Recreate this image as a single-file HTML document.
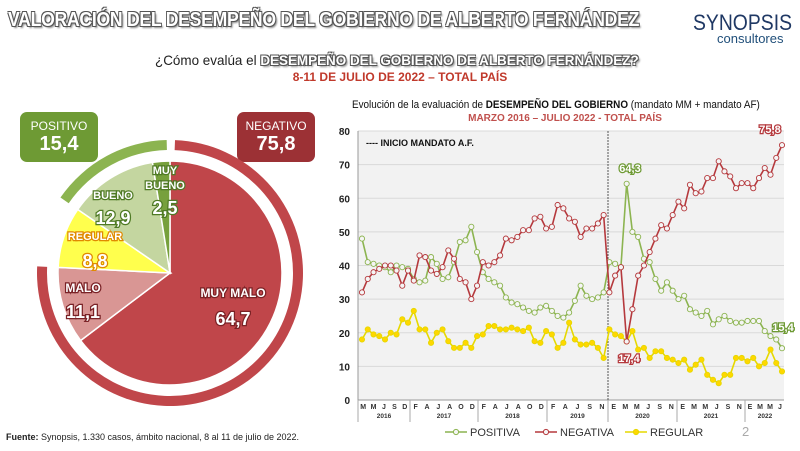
<!DOCTYPE html>
<html><head><meta charset="utf-8">
<style>
body{margin:0;width:800px;height:451px;background:#fff;font-family:"Liberation Sans",sans-serif;overflow:hidden;position:relative}
.out{color:#fff;font-weight:bold;text-shadow:-1px -1px 0 #555,1px -1px 0 #555,-1px 1px 0 #555,1px 1px 0 #555,2px 2px 2px #888}
.abs{position:absolute}
</style></head><body>
<div class="abs out" style="left:8px;top:9px;font-size:20px;letter-spacing:-0.3px;white-space:nowrap;transform:scaleX(0.88);transform-origin:left top">VALORACIÓN DEL DESEMPEÑO DEL GOBIERNO DE ALBERTO FERNÁNDEZ</div>
<div class="abs" style="left:693px;top:10px;font-size:22px;color:#1f3864;transform:scaleX(0.88);transform-origin:left top">SYNOPSIS</div>
<div class="abs" style="left:717px;top:31px;font-size:13px;color:#1f4e79">consultores</div>
<div class="abs" style="left:155px;top:52px;font-size:14px;color:#222;white-space:nowrap;transform:scaleX(0.96);transform-origin:left top">¿Cómo evalúa el <span class="out" style="font-size:14px">DESEMPEÑO DEL GOBIERNO DE ALBERTO FERNÁNDEZ?</span></div>
<div class="abs" style="left:0;width:800px;text-align:center;top:70px;font-size:12px;font-weight:bold;color:#c0392b">8-11 DE JULIO DE 2022 – TOTAL PAÍS</div>
<div class="abs" style="left:20px;top:112px;width:78px;height:50px;background:#6e9a34;border-radius:7px;color:#fff;text-align:center">
<div style="font-size:12px;margin-top:7px">POSITIVO</div><div style="font-size:20px;font-weight:bold">15,4</div></div>
<div class="abs" style="left:237px;top:112px;width:78px;height:50px;background:#9c3135;border-radius:7px;color:#fff;text-align:center">
<div style="font-size:12px;margin-top:7px">NEGATIVO</div><div style="font-size:20px;font-weight:bold">75,8</div></div>
<svg class="abs" style="left:0;top:0" width="340" height="451" id="pie"></svg>
<div class="abs" style="left:6px;top:432px;font-size:9px;color:#222"><b>Fuente:</b> Synopsis, 1.330 casos, ámbito nacional, 8 al 11 de julio de 2022.</div>
<div class="abs" style="left:352px;top:99px;font-size:11px;color:#111;white-space:nowrap;transform:scaleX(0.9);transform-origin:left top">Evolución de la evaluación de <b>DESEMPEÑO DEL GOBIERNO</b> (mandato MM + mandato AF)</div>
<div class="abs" style="left:340px;width:450px;text-align:center;top:113px;font-size:10px;font-weight:bold;color:#c0504d">MARZO 2016 – JULIO 2022 - TOTAL PAÍS</div>
<svg class="abs" style="left:0;top:0" width="800" height="451" id="line"></svg>
<script>
// ---- pie data
const pieLabels=["MUY MALO","MALO","REGULAR","BUENO","MUY BUENO"];
const pieValues=[64.7,11.1,8.8,12.9,2.5];
const ringValues=[75.8,15.4];
// ---- line data
const posValues=[48,41,40.5,40,39.5,38,40,39.5,39,36,35,35.5,42.5,40.5,36,36.5,41,47,47.5,51.5,44,38,36,35,34,30.5,29,28.5,27.5,26.5,26,27.5,28,26.5,25,24.5,26,29.5,34,31,30,30.5,32,
41,40.5,39.5,64.3,50,48.5,42,41,36,32.5,35,32.5,30,31,27,26,25,26.5,22.5,24,25,23.5,23,23,23.5,23.5,23.5,20.5,19,18,15.4];
const negValues=[32,36,38,39,40,40,38.5,34,38.5,35.5,43,42.5,38.5,37.5,39.5,44.5,42,36,35,30,34,41,40,41,43,48,47.5,48.5,50.5,50.5,54,54.5,51,51.5,58,57,54,53,48.5,51,51,52.5,55,
32,37,39.5,17.4,27,37,40,44,48,52,51,55,59,57,64,61.5,62,66,66,71,68,66.5,63,64.5,64.5,63,66,69,67,72,75.8];
const regValues=[18,21,19.5,19,18,20,19.5,24,23,26.5,21,21,17,20,21,17.5,15.5,15.5,17,15.5,19,19.5,22,22,21,21,21.5,21,20.5,21.5,17.5,17,20.5,19.5,15.5,17,23,18,16.5,16.5,17,15.5,12.5,
21,19.5,19,17.4,20.5,15,15.5,12.5,14.5,14.5,12.5,12,11,12,9,10.5,12,7.5,6,5,7.5,7.5,12.5,12.5,11.5,12.5,10,11,15,11,8.5];
const yTicks=[0,10,20,30,40,50,60,70,80];
const years=["2016","2017","2018","2019","2020","2021","2022"];
const monthGroups=[["M","M","J","S","D"],["F","A","J","A","O","D"],["F","A","J","A","O","D"],["F","A","J","S","N"],["E","M","M","J","S","N"],["E","M","M","J","S","N"],["E","M","M","J"]];
const NS="http://www.w3.org/2000/svg";
function mk(svg,tag,at){const e=document.createElementNS(NS,tag);for(const k in at)e.setAttribute(k,at[k]);svg.appendChild(e);return e;}
// PIE
const pie=document.getElementById('pie');
const cx=170,cy=273,R=112;
const pieColors=["#c0464a","#d99694","#ffff4d","#c4d6a0","#77a03c"];
function pt(r,a){const t=a*2*Math.PI/100;return [cx+r*Math.sin(t),cy-r*Math.cos(t)];}
function arcPath(r,a0,a1){const p0=pt(r,a0),p1=pt(r,a1);const lg=(a1-a0)>50?1:0;return `M${cx},${cy}L${p0[0]},${p0[1]}A${r},${r} 0 ${lg} 1 ${p1[0]},${p1[1]}Z`;}
function ringPath(r1,r2,a0,a1){const p0=pt(r2,a0),p1=pt(r2,a1),q1=pt(r1,a1),q0=pt(r1,a0);const lg=(a1-a0)>50?1:0;return `M${p0[0]},${p0[1]}A${r2},${r2} 0 ${lg} 1 ${p1[0]},${p1[1]}L${q1[0]},${q1[1]}A${r1},${r1} 0 ${lg} 0 ${q0[0]},${q0[1]}Z`;}
let acc=0;
pieValues.forEach((v,i)=>{const p=mk(pie,'path',{d:arcPath(R,acc,acc+v),fill:pieColors[i],stroke:'#fff','stroke-width':1.5});

acc+=v;});
let r0=mk(pie,'path',{d:ringPath(123,133,0.6,ringValues[0]),fill:'#c0464a'});


let r1=mk(pie,'path',{d:ringPath(123,133,100-ringValues[1],99.6),fill:'#8cb450'});


const pieText=[[233,297,"MUY MALO",12,"#fff"],[233,325,"64,7",18,"#fff"],[83,292,"MALO",12,"#fff"],[83,318,"11,1",18,"#fff"],[95,240,"REGULAR",11,"#fff"],[95,267,"8,8",18,"#fff"],[113,199,"BUENO",11,"#fff"],[113,224,"12,9",18,"#fff"],[165,174,"MUY",11,"#fff"],[165,189,"BUENO",11,"#fff"],[165,214,"2,5",18,"#fff"]];
const strokeCols=["#7a2226","#7a2226","#7a2226","#7a2226","#e08a00","#e08a00","#4f7a25","#4f7a25","#4f7a25","#4f7a25","#4f7a25"];
pieText.forEach((t,i)=>{const e=mk(pie,'text',{x:t[0],y:t[1],'text-anchor':'middle','font-size':t[3],'font-weight':'bold',fill:t[4],stroke:strokeCols[i],'stroke-width':2.5,'paint-order':'stroke','font-family':'Liberation Sans, sans-serif'});e.textContent=t[2];

});
// LINE
const sv=document.getElementById('line');
const X0=358,X1=784,Y0=400,Y1=131;
const N=posValues.length;
const xs=i=>362+i*(420/(N-1));
const ys=v=>Y0-(v/80)*(Y0-Y1);
let bg=mk(sv,'rect',{x:X0,y:Y1,width:X1-X0,height:Y0-Y1,fill:'#f2f2f2'});


yTicks.forEach(t=>{if(t>0){let g=mk(sv,'line',{x1:X0,x2:X1,y1:ys(t),y2:ys(t),stroke:'#d9d9d9','stroke-width':1});}
const e=mk(sv,'text',{x:350,y:ys(t)+4,'text-anchor':'end','font-size':10,'font-weight':'bold',fill:'#222'});e.textContent=t;

});
mk(sv,'line',{x1:X0,x2:X0,y1:Y1,y2:Y0,stroke:'#999'});
mk(sv,'line',{x1:X0,x2:X1,y1:Y0,y2:Y0,stroke:'#999'});
let vl=mk(sv,'line',{x1:608,x2:608,y1:Y1,y2:Y0+22,stroke:'#555','stroke-dasharray':'2,1'});


let lt=mk(sv,'text',{x:366,y:146,'font-size':9,'font-weight':'bold',fill:'#111'});lt.textContent='---- INICIO MANDATO A.F.';


const bounds=[358,410,478,547,608,677,745,785];
years.forEach((y,i)=>{const a=bounds[i],b=bounds[i+1];
mk(sv,'line',{x1:a,x2:a,y1:Y0,y2:Y0+22,stroke:'#aaa'});
const ml=monthGroups[i];const w=(b-a)/ml.length;
ml.forEach((m,j)=>{const e=mk(sv,'text',{x:a+w*(j+0.5),y:Y0+9,'text-anchor':'middle','font-size':7,'font-weight':'bold',fill:'#333'});e.textContent=m;

});
const e=mk(sv,'text',{x:(a+b)/2,y:Y0+18,'text-anchor':'middle','font-size':6.5,'font-weight':'bold',fill:'#333'});e.textContent=y;

});
function series(vals,stroke,fill,name){
const d=vals.map((v,i)=>(i?'L':'M')+xs(i)+','+ys(v)).join('');
const p=mk(sv,'path',{d:d,fill:'none',stroke:stroke,'stroke-width':1.6});


vals.forEach((v,i)=>{const c=mk(sv,'circle',{cx:xs(i),cy:ys(v),r:2.6,fill:fill,stroke:stroke,'stroke-width':0.9});

});}
series(regValues,'#e6d800','#ffd700','regular');
series(posValues,'#8cb450','#f5f5f5','positiva');
series(negValues,'#b5393d','#f5f5f5','negativa');
function callout(x,y,t,c,name){const e=mk(sv,'text',{x:x,y:y,'text-anchor':'middle','font-size':11,'font-weight':'bold',fill:'#fff',stroke:c,'stroke-width':2.5,'paint-order':'stroke'});e.textContent=t;

}
callout(770,133,'75,8','#b5393d','callout-negative-last');
callout(630,172,'64,3','#6e9a34','callout-positive-peak');
callout(629,362,'17,4','#b5393d','callout-negative-min');
callout(783,331,'15,4','#6e9a34','callout-positive-last');
const leg=[["POSITIVA","#8cb450","#f5f5f5",445],["NEGATIVA","#b5393d","#f5f5f5",535],["REGULAR","#e6d800","#ffd700",625]];
leg.forEach(l=>{mk(sv,'line',{x1:l[3],x2:l[3]+22,y1:432,y2:432,stroke:l[1],'stroke-width':1.6});mk(sv,'circle',{cx:l[3]+11,cy:432,r:2.6,fill:l[2],stroke:l[1]});
const e=mk(sv,'text',{x:l[3]+25,y:436,'font-size':11,fill:'#333'});e.textContent=l[0];

});
let pn=mk(sv,'text',{x:742,y:436,'font-size':13,fill:'#aaa'});pn.textContent='2';


</script>
</body></html>
